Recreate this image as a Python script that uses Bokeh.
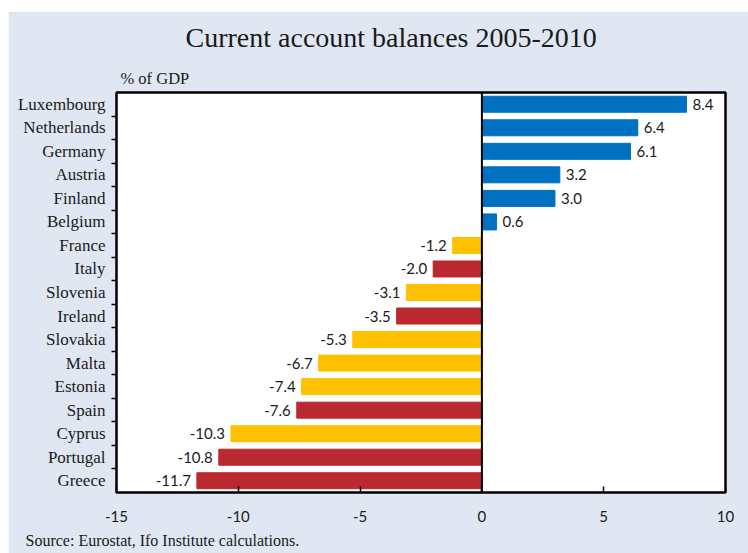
from bokeh.plotting import figure
from bokeh.models import ColumnDataSource, FixedTicker, Span, Title, LabelSet, Spacer
from bokeh.layouts import column, row
from bokeh.core.properties import value
from bokeh.embed import file_html
from bokeh.resources import INLINE

countries = ["Luxembourg", "Netherlands", "Germany", "Austria", "Finland", "Belgium",
             "France", "Italy", "Slovenia", "Ireland", "Slovakia", "Malta", "Estonia",
             "Spain", "Cyprus", "Portugal", "Greece"]
values = [8.4, 6.4, 6.1, 3.2, 3.0, 0.6, -1.2, -2.0, -3.1, -3.5, -5.3, -6.7, -7.4,
          -7.6, -10.3, -10.8, -11.7]
groups = ["surplus"] * 6 + ["deficit", "giips", "deficit", "giips", "deficit", "deficit",
                            "deficit", "giips", "deficit", "giips", "giips"]
x_ticks = [-15, -10, -5, 0, 5, 10]

palette = {"surplus": "#0070C0", "deficit": "#FFC000", "giips": "#BA2830"}
n = len(countries)
ypos = [n - 1 - i for i in range(n)]
labels = [f"{v:.1f}" for v in values]

pos = dict(y=[], v=[], t=[])
neg = dict(y=[], v=[], t=[])
for y, v, t in zip(ypos, values, labels):
    d = pos if v >= 0 else neg
    d["y"].append(y); d["v"].append(v); d["t"].append(t)

src = ColumnDataSource(dict(y=ypos, v=values, c=[palette[g] for g in groups]))

SANS = "Lato"
BG = "#E0E7F3"
p = figure(width=740, height=542, x_range=(-15, 10), y_range=(-0.5, n - 0.5),
           output_backend="svg", toolbar_location=None,
           min_border_left=108, min_border_right=23, min_border_top=19, min_border_bottom=12)
p.background_fill_color = "white"
p.border_fill_color = BG
p.outline_line_color = "black"
p.outline_line_width = 2.5
p.grid.visible = False

p.hbar(y="y", right="v", left=0, height=0.68, color="c", source=src)

p.add_layout(Span(location=0, dimension="height", line_color="black", line_width=2))

sp = ColumnDataSource(pos)
sn = ColumnDataSource(neg)
p.add_layout(LabelSet(x="v", y="y", text="t", source=sp, x_offset=6, text_align="left",
                      text_baseline="middle", text_font=value(SANS), text_font_size=value("15px"),
                      text_color="#1a1a1a"))
p.add_layout(LabelSet(x="v", y="y", text="t", source=sn, x_offset=-6, text_align="right",
                      text_baseline="middle", text_font=value(SANS), text_font_size=value("15px"),
                      text_color="#1a1a1a"))

# x axis
xa = p.xaxis[0]
xa.ticker = FixedTicker(ticks=x_ticks)
xa.major_label_overrides = {t: str(t) for t in x_ticks}
xa.axis_line_color = None
xa.major_tick_in = 6
xa.major_tick_out = 0
xa.major_tick_line_color = "black"
xa.major_tick_line_width = 1.5
xa.minor_tick_line_color = None
xa.major_label_text_font = SANS
xa.major_label_text_font_size = "15px"
xa.major_label_text_color = "#1a1a1a"
xa.major_label_standoff = 18

# y axis
ya = p.yaxis[0]
ya.ticker = FixedTicker(ticks=ypos, minor_ticks=[i + 0.5 for i in range(n - 1)])
ya.major_label_overrides = {y: c for y, c in zip(ypos, countries)}
ya.axis_line_color = None
ya.major_tick_line_color = None
ya.minor_tick_line_color = "black"
ya.minor_tick_line_width = 1.5
ya.minor_tick_out = 5
ya.minor_tick_in = 0
ya.major_label_text_font = "Liberation Serif"
ya.major_label_text_font_size = "17px"
ya.major_label_text_color = "#1a1a1a"
ya.major_label_standoff = 5

# titles
p.add_layout(Title(text="Source: Eurostat, Ifo Institute calculations.", align="left",
                   offset=-91, text_font="Liberation Serif", text_font_size="16px",
                   text_font_style="normal", text_color="#1a1a1a", standoff=10), "below")
p.add_layout(Title(text="% of GDP", align="left", offset=4, text_font="Liberation Serif",
                   text_font_size="16.5px", text_font_style="normal", text_color="#1a1a1a",
                   standoff=10), "above")
p.add_layout(Title(text="Current account balances 2005-2010", align="left", offset=69,
                   text_font="Liberation Serif", text_font_size="28px",
                   text_font_style="normal", text_color="#1a1a1a", standoff=17), "above")

layout = column(Spacer(height=11), row(Spacer(width=8), p), spacing=0)
layout.styles = {"background-color": "white"}

open("out.html", "w").write(file_html(layout, INLINE))
